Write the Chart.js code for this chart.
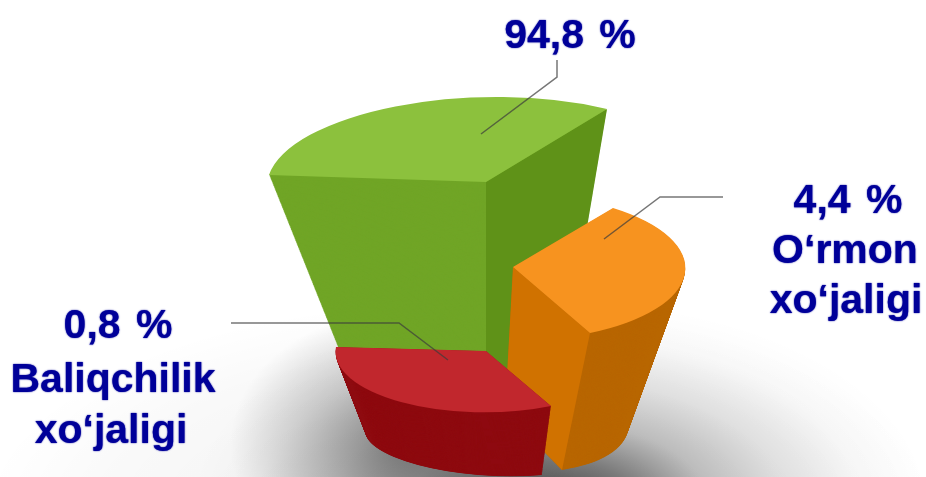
<!DOCTYPE html>
<html><head><meta charset="utf-8">
<style>html,body{margin:0;padding:0;background:#fff}canvas{display:block}</style>
<script src="https://cdn.jsdelivr.net/npm/chart.js@4/dist/chart.umd.js"></script>
</head><body><canvas id="c" width="926" height="477"></canvas>
<script>
// --- data as printed on the picture ---
const categories = ["Qishloq xo‘jaligi", "O‘rmon xo‘jaligi", "Baliqchilik xo‘jaligi"];
const shareValues = [94.8, 4.4, 0.8];
const valueLabels = ["94,8 %", "4,4 %", "0,8 %"];
// the reference's slices are not value-true: sweep of each slice as drawn, in degrees
const drawnSweepDeg = [116, 118, 120];

// --- styling / 3D view ---
const faceColors = ["#8cc13d", "#f7931f", "#c1272d"];
const wallColors = ["#70a526", "#b86600", "#8e0b10"];
const sideColors = ["#5f9218", "#d07200", null];
// each slice's view: [apex, start, end] of its top face and bottom face
const views = [
  {top: [[486,182],[269,175],[607,109]], bottom: [[486,420],[357,395],[562,375]]},
  {top: [[513,267],[613,208],[590,333]], bottom: [[505,412],[575,371],[562,470]]},
  {top: [[486,351],[551,406],[336,347]], bottom: [[490,438],[542,475],[366,428]]}
];
const LAYERS = 260;
const textColor = "#000099";
const textFont = "bold 41px 'Liberation Sans', Arial, sans-serif";
const captions = [
  {lines: [valueLabels[0]], x: [570], y: [48], },
  {lines: [valueLabels[1], "O‘rmon", "xo‘jaligi"], x: [848, 845, 846], y: [213, 263, 313]},
  {lines: [valueLabels[2], "Baliqchilik", "xo‘jaligi"], x: [118, 113, 111], y: [338, 392, 443]}
];
const leaders = [
  [[481,134],[557,77],[557,60]],
  [[604,239],[660,197],[723,197]],
  [[448,360],[399,323],[231,323]]
];

function mix(a, b, t) { return [a[0] + (b[0]-a[0])*t, a[1] + (b[1]-a[1])*t]; }

function applyView(ctx, arc, tri) {
  const cx = arc.x, cy = arc.y, r = arc.outerRadius;
  const ux = r*Math.cos(arc.startAngle), uy = r*Math.sin(arc.startAngle);
  const vx = r*Math.cos(arc.endAngle), vy = r*Math.sin(arc.endAngle);
  const Ux = tri[1][0]-tri[0][0], Uy = tri[1][1]-tri[0][1];
  const Vx = tri[2][0]-tri[0][0], Vy = tri[2][1]-tri[0][1];
  const det = ux*vy - uy*vx;
  const a = (Ux*vy - Vx*uy)/det, c = (Vx*ux - Ux*vx)/det;
  const b = (Uy*vy - Vy*uy)/det, d = (Vy*ux - Uy*vx)/det;
  ctx.setTransform(a, b, c, d, tri[0][0] - a*cx - c*cy, tri[0][1] - b*cx - d*cy);
}

const plainOptions = color => ({backgroundColor: color, borderColor: color, borderWidth: 0,
  offset: 0, spacing: 0, borderRadius: 0, circular: true, borderAlign: "center", borderJoinStyle: "round"});

function softEllipse(ctx, cx, cy, rx, ry, stops) {
  ctx.save();
  ctx.translate(cx, cy); ctx.scale(1, ry/rx);
  const g = ctx.createRadialGradient(0, 0, 0, 0, 0, rx);
  stops.forEach(s => g.addColorStop(s[0], s[1]));
  ctx.fillStyle = g;
  ctx.beginPath(); ctx.arc(0, 0, rx, 0, Math.PI*2); ctx.fill();
  ctx.restore();
}

const extrudedPie = {
  id: "extrudedPie",
  beforeDraw(chart) {
    const ctx = chart.ctx;
    ctx.save();
    ctx.fillStyle = "#fff";
    ctx.fillRect(0, 0, chart.width, chart.height);
    ctx.beginPath(); ctx.rect(0, 0, chart.width, chart.height); ctx.clip();
    // floor shadow
    softEllipse(ctx, 460, 520, 480, 220, [[0, "rgba(0,0,0,.06)"], [.75, "rgba(0,0,0,.025)"], [1, "rgba(0,0,0,0)"]]);
    softEllipse(ctx, 560, 505, 370, 205, [
      [0, "rgba(0,0,0,.72)"], [.21, "rgba(0,0,0,.5)"], [.40, "rgba(0,0,0,.24)"],
      [.61, "rgba(0,0,0,.1)"], [.81, "rgba(0,0,0,.025)"], [1, "rgba(0,0,0,0)"]]);
    softEllipse(ctx, 405, 445, 175, 135, [[0, "rgba(0,0,0,.42)"], [.5, "rgba(0,0,0,.2)"], [1, "rgba(0,0,0,0)"]]);
    ctx.restore();
  },
  beforeDatasetsDraw(chart) {
    const ctx = chart.ctx, arcs = chart.getDatasetMeta(0).data;
    let angle = -Math.PI/2;
    arcs.forEach((arc, i) => {
      const sweep = drawnSweepDeg[i]*Math.PI/180;
      arc.startAngle = angle; arc.endAngle = angle + sweep; arc.circumference = sweep;
      angle += sweep;
    });
    arcs.forEach((arc, i) => {
      const v = views[i], saved = arc.options;
      // side wall stack, bottom layer first
      arc.options = plainOptions(wallColors[i]);
      for (let k = LAYERS; k > 0; k--) {
        const t = k/LAYERS;
        ctx.save();
        applyView(ctx, arc, v.top.map((p, n) => mix(p, v.bottom[n], t)));
        arc.draw(ctx);
        ctx.restore();
      }
      // flat radial face
      if (sideColors[i]) {
        ctx.save();
        ctx.fillStyle = sideColors[i];
        ctx.beginPath();
        ctx.moveTo(...v.top[0]); ctx.lineTo(...v.top[2]);
        ctx.lineTo(...v.bottom[2]); ctx.lineTo(...v.bottom[0]);
        ctx.closePath(); ctx.fill();
        ctx.restore();
      }
      // top face
      arc.options = plainOptions(faceColors[i]);
      ctx.save();
      applyView(ctx, arc, v.top);
      arc.draw(ctx);
      ctx.restore();
      arc.options = saved;
    });
    return false;
  },
  afterDraw(chart) {
    const ctx = chart.ctx;
    ctx.save();
    ctx.strokeStyle = "rgba(60,60,60,.7)";
    ctx.lineWidth = 1.5;
    leaders.forEach(pts => {
      ctx.beginPath();
      pts.forEach((p, i) => i ? ctx.lineTo(p[0], p[1]) : ctx.moveTo(p[0], p[1]));
      ctx.stroke();
    });
    ctx.fillStyle = textColor;
    ctx.font = textFont;
    ctx.textAlign = "center";
    ctx.textBaseline = "alphabetic";
    ctx.shadowColor = textColor;
    ctx.shadowBlur = 1.5;
    captions.forEach(c => c.lines.forEach((s, i) => {
      ctx.wordSpacing = i === 0 ? "4px" : "0px";
      ctx.fillText(s, c.x[i], c.y[i]);
    }));
    ctx.restore();
  }
};

new Chart(document.getElementById("c"), {
  type: "pie",
  data: {labels: categories, datasets: [{data: shareValues, backgroundColor: faceColors, borderWidth: 0}]},
  options: {
    responsive: false, animation: false,
    plugins: {legend: {display: false}, tooltip: {enabled: false}}
  },
  plugins: [extrudedPie]
});
</script></body></html>
